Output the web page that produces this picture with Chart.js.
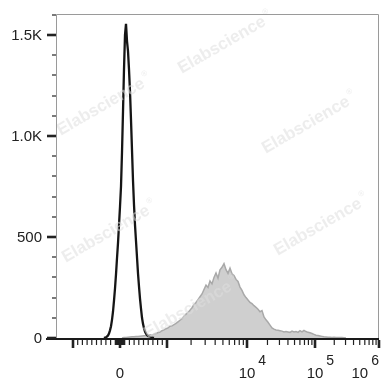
<!DOCTYPE html>
<html>
<head>
<meta charset="utf-8">
<script src="https://cdn.jsdelivr.net/npm/chart.js@4.4.1/dist/chart.umd.min.js"></script>
<style>
  html, body { margin: 0; padding: 0; background: #fff; }
</style>
</head>
<body>
<canvas id="chHist" width="381" height="378"></canvas>
<script>
// histogram data, x in display channels of the biex axis (0 = zero)
var ctrlStart = -16;
var ctrlStep = 1;
var ctrlCounts = [0, 2, 4, 7, 12, 22, 38, 58, 90, 130,
    185, 245, 315, 395, 470, 560, 650, 750, 920, 1120,
    1330, 1500, 1555, 1470, 1420, 1330, 1220, 1080, 930, 780,
    660, 560, 480, 400, 320, 255, 195, 145, 100, 70,
    48, 32, 22, 15, 10, 7, 5, 3, 2, 1, 0];

var stainedStart = 2;
var stainedStep = 2;
var stainedCounts = [0, 2, 3, 4, 5, 6, 6, 7, 8, 9, 10,
    11, 12, 14, 16, 14, 19, 22, 27, 30, 36,
    40, 46, 50, 58, 60, 66, 72, 80, 88, 96,
    108, 118, 126, 138, 150, 166, 176, 190, 204, 218,
    240, 262, 250, 282, 268, 300, 322, 296, 338, 350,
    368, 338, 320, 346, 318, 310, 290, 280, 252, 236,
    214, 200, 188, 176, 170, 160, 152, 142, 130, 136,
    104, 90, 78, 64, 50, 44, 40, 38, 36, 34,
    30, 32, 30, 28, 34, 30, 32, 28, 36, 30,
    38, 32, 28, 26, 22, 18, 14, 12, 10, 8,
    6, 5, 4, 4, 3, 4, 3, 3, 2, 2,
    1, 0];

// axes
var yMax = 1604;
var yTicks = [0, 500, 1000, 1500];
var yTickLabels = ['0', '500', '1.0K', '1.5K'];
var xTickValues = [0, 1e4, 1e5, 1e6];
var xTickBases = ['0', '10', '10', '10'];
var xTickExps = ['', '4', '5', '6'];
var xMajorValues = [-1e3, 0, 1e3, 1e4, 1e5, 1e6];

var watermarkText = 'Elabscience';

// biex-like display transform (value -> display channel)
function biex(v) {
    var a = Math.abs(v), d;
    if (a <= 1000) d = a * 0.047;
    else if (a <= 1e4) d = 47 + 80 * Math.log10(a / 1e3);
    else if (a <= 1e5) d = 127 + 68 * Math.log10(a / 1e4);
    else d = 195 + 64 * Math.log10(a / 1e5);
    return v < 0 ? -d : d;
}

function toPoints(start, step, counts) {
    return counts.map(function (c, i) { return { x: start + i * step, y: c }; });
}

function minorValues() {
    var out = [];
    var k, n;
    for (k = 1; k <= 9; k++) { out.push(k * 10, -k * 10); }
    for (k = 1; k <= 9; k++) { out.push(k * 100, -k * 100); }
    for (n = 3; n <= 5; n++) {
        for (k = 2; k <= 9; k++) { out.push(k * Math.pow(10, n)); }
    }
    return out;
}

var flowAxes = {
    id: 'flowAxes',
    afterDatasetsDraw: function (chart) {
        var ctx = chart.ctx;
        var spots = [[222, 45], [101, 107], [306, 125], [106, 234], [318, 227], [188, 310]];
        ctx.save();
        ctx.fillStyle = 'rgba(222,222,222,0.55)';
        ctx.textAlign = 'center';
        ctx.textBaseline = 'middle';
        spots.forEach(function (s) {
            ctx.save();
            ctx.translate(s[0], s[1]);
            ctx.rotate(-30 * Math.PI / 180);
            ctx.font = 'bold 17px "Liberation Sans", Arial, sans-serif';
            ctx.fillText(watermarkText, 0, 0);
            var w = ctx.measureText(watermarkText).width;
            ctx.font = '8px "Liberation Sans", Arial, sans-serif';
            ctx.fillText('\u00AE', w / 2 + 5, -7);
            ctx.restore();
        });
        ctx.restore();
    },
    afterDraw: function (chart) {
        var ctx = chart.ctx;
        var area = chart.chartArea;
        var xs = chart.scales.x;
        var ys = chart.scales.y;
        ctx.save();

        // frame
        ctx.strokeStyle = '#9a9a9a';
        ctx.lineWidth = 1;
        ctx.beginPath();
        ctx.moveTo(area.left + 0.5, area.bottom);
        ctx.lineTo(area.left + 0.5, area.top + 0.5);
        ctx.lineTo(area.right - 0.5, area.top + 0.5);
        ctx.lineTo(area.right - 0.5, area.bottom);
        ctx.stroke();

        // bottom axis
        ctx.strokeStyle = '#1a1a1a';
        ctx.lineWidth = 2;
        ctx.beginPath();
        ctx.moveTo(area.left - 10, area.bottom + 1);
        ctx.lineTo(area.right, area.bottom + 1);
        ctx.stroke();

        // y ticks
        ctx.strokeStyle = '#222';
        for (var v = 0; v <= yMax; v += 100) {
            var py = Math.round(ys.getPixelForValue(v));
            var major = yTicks.indexOf(v) >= 0;
            ctx.lineWidth = major ? 2.6 : 1.2;
            ctx.beginPath();
            ctx.moveTo(area.left - (major ? 9 : 4), py);
            ctx.lineTo(area.left, py);
            ctx.stroke();
        }
        ctx.fillStyle = '#222';
        ctx.font = '15px "Liberation Sans", Arial, sans-serif';
        ctx.textAlign = 'right';
        ctx.textBaseline = 'middle';
        yTicks.forEach(function (t, i) {
            ctx.fillText(yTickLabels[i], area.left - 14, ys.getPixelForValue(t) + 1);
        });

        // x ticks
        var y0 = area.bottom + 2;
        minorValues().forEach(function (val) {
            var px = xs.getPixelForValue(biex(val));
            if (px < area.left || px > area.right) return;
            ctx.lineWidth = 1.2;
            ctx.beginPath();
            ctx.moveTo(px, y0);
            ctx.lineTo(px, y0 + 5);
            ctx.stroke();
        });
        xMajorValues.forEach(function (val) {
            var px = xs.getPixelForValue(biex(val));
            if (px > area.right) px = area.right - 1;
            ctx.lineWidth = 2.6;
            ctx.beginPath();
            ctx.moveTo(px, y0);
            ctx.lineTo(px, y0 + 8);
            ctx.stroke();
        });

        // x labels with exponents
        ctx.textAlign = 'left';
        ctx.textBaseline = 'alphabetic';
        xTickValues.forEach(function (val, i) {
            var px = xs.getPixelForValue(biex(val));
            ctx.font = '15px "Liberation Sans", Arial, sans-serif';
            var wb = ctx.measureText(xTickBases[i]).width;
            ctx.font = '14px "Liberation Sans", Arial, sans-serif';
            var we = xTickExps[i] ? ctx.measureText(xTickExps[i]).width + 3 : 0;
            var left = px - wb / 2;
            if (left + wb + we > chart.width - 2) left = chart.width - 2 - wb - we;
            ctx.font = '15px "Liberation Sans", Arial, sans-serif';
            ctx.fillText(xTickBases[i], left, 378);
            if (xTickExps[i]) {
                ctx.font = '14px "Liberation Sans", Arial, sans-serif';
                ctx.fillText(xTickExps[i], left + wb + 3, 365);
            }
        });
        ctx.restore();
    }
};

var chHist = document.getElementById('chHist');
new Chart(chHist, {
    type: 'line',
    data: {
        datasets: [
            {
                label: 'stained',
                data: toPoints(stainedStart, stainedStep, stainedCounts),
                borderColor: '#a9a9a9',
                backgroundColor: '#cfcfcf',
                borderWidth: 1.5,
                fill: 'origin',
                pointRadius: 0,
                tension: 0,
                order: 2
            },
            {
                label: 'control',
                data: toPoints(ctrlStart, ctrlStep, ctrlCounts),
                borderColor: '#151515',
                borderWidth: 2.3,
                fill: false,
                pointRadius: 0,
                tension: 0,
                order: 1
            }
        ]
    },
    options: {
        responsive: false,
        animation: false,
        layout: { padding: { left: 56, right: 2, top: 14, bottom: 40 } },
        plugins: { legend: { display: false }, tooltip: { enabled: false } },
        scales: {
            x: { type: 'linear', min: -64, max: 259, display: false },
            y: { type: 'linear', min: 0, max: yMax, display: false }
        }
    },
    plugins: [flowAxes]
});
</script>
</body>
</html>
